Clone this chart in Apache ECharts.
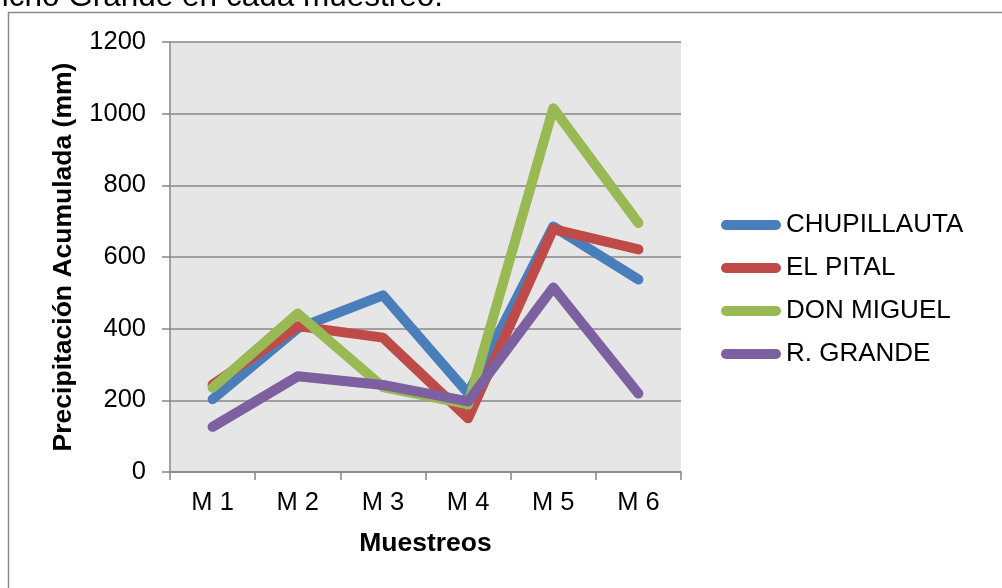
<!DOCTYPE html>
<html>
<head>
<meta charset="utf-8">
<script src="https://cdn.jsdelivr.net/npm/echarts@6/dist/echarts.min.js"></script>
<style>
  html, body { margin: 0; padding: 0; background: #ffffff; }
  #chart { width: 1002px; height: 588px; }
</style>
</head>
<body>
<div id="chart"></div>
<script>
// Muestreos (sampling campaigns)
const categories = ['M 1', 'M 2', 'M 3', 'M 4', 'M 5', 'M 6'];

// Accumulated precipitation per station (mm)
const chupillauta = [203, 401, 493, 220, 685, 537];
const elPital     = [244, 407, 375, 150, 678, 621];
const donMiguel   = [235, 442, 237, 189, 1015, 695];
const rGrande     = [126, 267, 243, 197, 515, 219];

const seriesNames  = ['CHUPILLAUTA', 'EL PITAL', 'DON MIGUEL', 'R. GRANDE'];
const seriesValues = [chupillauta, elPital, donMiguel, rGrande];
const seriesColors = ['#4a7ebb', '#be4b48', '#98b954', '#7d60a0'];

const FONT = '"Liberation Sans", Arial, sans-serif';
const AXIS_GRAY = '#878787';

const chart = echarts.init(document.getElementById('chart'), null, { renderer: 'canvas' });

// rounded-end bar used as the legend key
const pill = 'path://M5,0 L55,0 A5,5 0 0 1 55,10 L5,10 A5,5 0 0 1 5,0 Z';

chart.setOption({
  animation: false,
  backgroundColor: '#ffffff',
  textStyle: { fontFamily: FONT },
  graphic: [
    {
      type: 'rect',
      shape: { x: 8.5, y: 12.5, width: 1010, height: 600 },
      style: { fill: 'none', stroke: '#8a8a8a', lineWidth: 1.5 },
      silent: true,
      z: 0
    },
    {
      type: 'text',
      x: 443, y: -18.5,
      style: {
        text: 'icho Grande en cada muestreo.',
        fontFamily: FONT, fontSize: 31.5, fill: '#000000',
        align: 'right', verticalAlign: 'top'
      },
      silent: true
    }
  ],
  grid: {
    left: 170, right: 321, top: 42, bottom: 116,
    show: true, backgroundColor: '#e6e6e6', borderWidth: 0
  },
  legend: {
    orient: 'vertical',
    left: 716, top: 207,
    itemWidth: 60, itemHeight: 10,
    itemGap: 17,
    icon: pill,
    textStyle: { fontFamily: FONT, fontSize: 26, color: '#000000' },
    data: seriesNames.map((n, i) => ({ name: n, itemStyle: { color: seriesColors[i] } }))
  },
  xAxis: {
    type: 'category',
    data: categories,
    boundaryGap: true,
    name: 'Muestreos',
    nameLocation: 'middle',
    nameGap: 58,
    nameTextStyle: { fontFamily: FONT, fontSize: 26.5, fontWeight: 'bold', color: '#000000' },
    axisLine: { show: true, lineStyle: { color: AXIS_GRAY, width: 1.5 } },
    axisTick: { show: true, length: 8, alignWithLabel: false, lineStyle: { color: AXIS_GRAY, width: 1.5 } },
    axisLabel: { margin: 18, fontFamily: FONT, fontSize: 25.5, color: '#000000' },
    splitLine: { show: false }
  },
  yAxis: {
    type: 'value',
    min: 0, max: 1200, interval: 200,
    name: 'Precipitación Acumulada (mm)',
    nameLocation: 'middle',
    nameGap: 93,
    nameTextStyle: { fontFamily: FONT, fontSize: 26.5, fontWeight: 'bold', color: '#000000' },
    axisLine: { show: true, lineStyle: { color: AXIS_GRAY, width: 1.5 } },
    axisTick: { show: true, inside: false, length: 8, lineStyle: { color: AXIS_GRAY, width: 1.5 } },
    axisLabel: { margin: 24, fontFamily: FONT, fontSize: 25.5, color: '#000000', formatter: v => String(v) },
    splitLine: { show: true, lineStyle: { color: AXIS_GRAY, width: 1.5 } }
  },
  series: seriesNames.map((n, i) => ({
    name: n,
    type: 'line',
    data: seriesValues[i],
    symbol: 'none',
    smooth: false,
    itemStyle: { color: seriesColors[i] },
    lineStyle: { color: seriesColors[i], width: 10, cap: 'round', join: 'round' },
    z: 2 + i
  }))
});
</script>
</body>
</html>
